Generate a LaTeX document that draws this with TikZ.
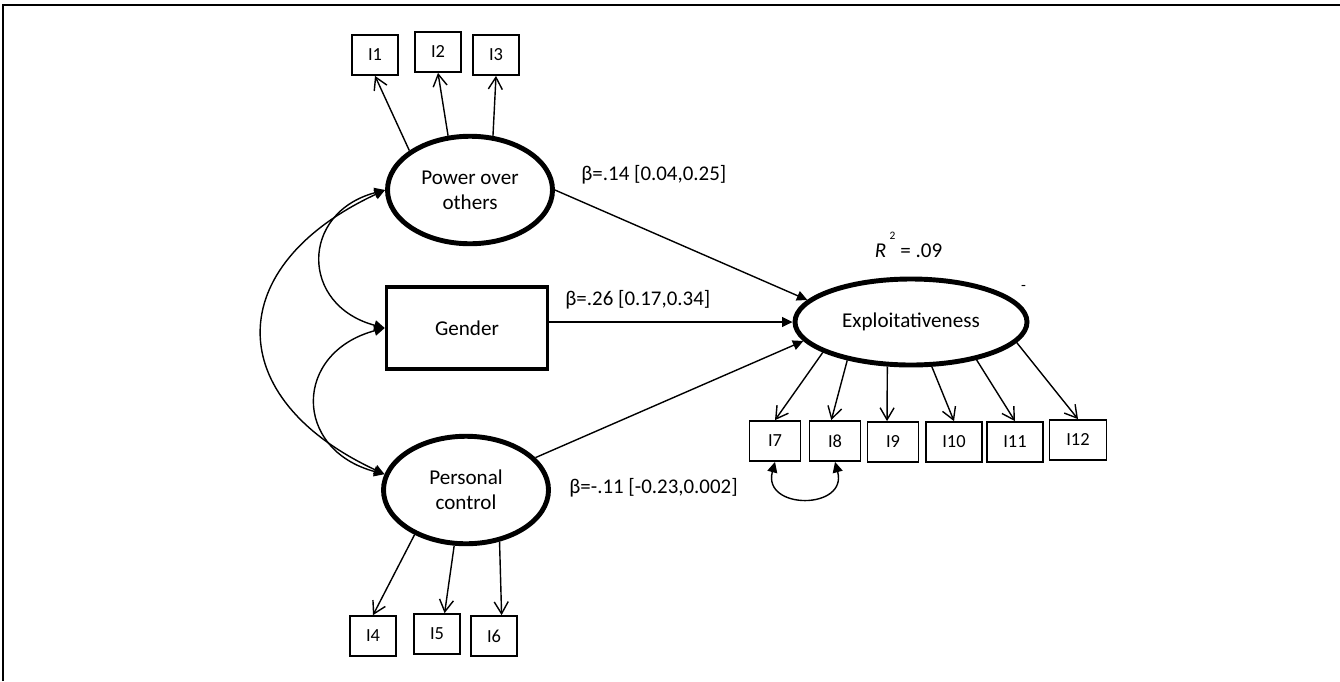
\documentclass[tikz,border=0pt]{standalone}
\usepackage{fontspec}
\setmainfont{Carlito}
\usetikzlibrary{shapes.geometric,arrows.meta}

\begin{document}
\begin{tikzpicture}[
    latent/.style={ellipse, draw, line width=2.8pt, inner sep=0pt, minimum width=3.3cm, minimum height=2.15cm, align=center, font=\fontsize{12}{14.2}\selectfont},
    observed/.style={rectangle, draw, line width=2pt, minimum width=3.22cm, minimum height=1.64cm, font=\fontsize{12}{14.2}\selectfont},
    item/.style={rectangle, draw, line width=1pt, minimum width=0.92cm, minimum height=0.8cm, inner sep=0pt, font=\fontsize{10.5}{12}\selectfont},
    load/.style={line width=0.8pt, -{Straight Barb[length=2.4mm,width=2.8mm,line width=0.8pt]}},
    regpath/.style={line width=0.8pt, -{Triangle[length=2.1mm,width=2mm]}},
    cov/.style={line width=0.8pt, {Triangle[length=2.1mm,width=2mm]}-{Triangle[length=2.1mm,width=2mm]}},
    coef/.style={anchor=west, inner sep=0pt, font=\fontsize{11.9}{14.2}\selectfont}
  ]
    \useasboundingbox (0,0) rectangle (26.8,-13.62);
    \draw[line width=1.1pt] (0.06,-13.62) -- (0.06,-0.1) -- (26.8,-0.1);

    \node[latent] (power) at (9.4,-3.8) {Power over\\others};
    \node[observed] (gender) at (9.34,-6.56) {Gender};
    \node[latent] (personal) at (9.32,-9.8) {Personal\\control};
    \node[latent, minimum width=4.64cm, minimum height=1.72cm] (expl) at (18.22,-6.44) {Exploitativeness};

    \node[item] (i1) at (7.5,-1.1) {I1};
    \node[item] (i2) at (8.76,-1.04) {I2};
    \node[item] (i3) at (9.92,-1.1) {I3};

    \node[item] (i4) at (7.46,-12.72) {I4};
    \node[item] (i5) at (8.74,-12.68) {I5};
    \node[item] (i6) at (9.88,-12.72) {I6};

    \node[item, minimum width=1.02cm] (i7) at (15.5,-8.82) {I7};
    \node[item, minimum width=1.02cm] (i8) at (16.7,-8.82) {I8};
    \node[item, minimum width=1.02cm] (i9) at (17.86,-8.84) {I9};
    \node[item, minimum width=1.12cm] (i10) at (19.08,-8.84) {I10};
    \node[item, minimum width=1.12cm] (i11) at (20.3,-8.84) {I11};
    \node[item, minimum width=1.14cm] (i12) at (21.56,-8.8) {I12};

    \node[coef] (b1) at (11.62,-3.5) {β=.14 [0.04,0.25]};
    \node[coef] (b2) at (11.3,-6.0) {β=.26 [0.17,0.34]};
    \node[coef] (b3) at (11.38,-9.76) {β=-.11 [-0.23,0.002]};

    \node[anchor=base, font=\fontsize{12}{14.2}\selectfont] (rsq) at (18.17,-5.14) {\textit{R}\,\raisebox{0.85em}{\fontsize{6.5}{6.5}\selectfont 2}\ = .09};
    \node[font=\fontsize{9}{9}\selectfont] (mark) at (20.47,-5.76) {-};

    \draw[regpath] (power.east) -- (expl.168);
    \draw[regpath] (gender.east |- expl.west) -- (expl.west);
    \draw[regpath] (personal.25) -- (expl.190);

    \draw[cov] (power.west) .. controls +(195:1.76) and +(165:1.76) .. (gender.west);
    \draw[cov] (gender.west) .. controls +(195:1.9) and +(165:1.9) .. (personal.169);
    \draw[cov] (power.west) .. controls +(205:3.6) and +(155:3.6) .. (personal.169);
    \draw[cov] (i7.south) .. controls +(-105:1.0) and +(-75:1.0) .. (i8.south);

    \draw[load] (power.147) -- (i1.south);
    \draw[load] (power.112) -- (i2.south);
    \draw[load] (power.67) -- (i3.south);

    \draw[load] (personal.221) -- (i4.north);
    \draw[load] (personal.258) -- (i5.70);
    \draw[load] (personal.303) -- (i6.70);

    \draw[load] (expl.199) -- (i7.north);
    \draw[load] (expl.211) -- (i8.100);
    \draw[load] (expl.242) -- (i9.106);
    \draw[load] (expl.295) -- (i10.north);
    \draw[load] (expl.330) -- (i11.north);
    \draw[load] (expl.349) -- (i12.north);

  \end{tikzpicture}
\end{document}
